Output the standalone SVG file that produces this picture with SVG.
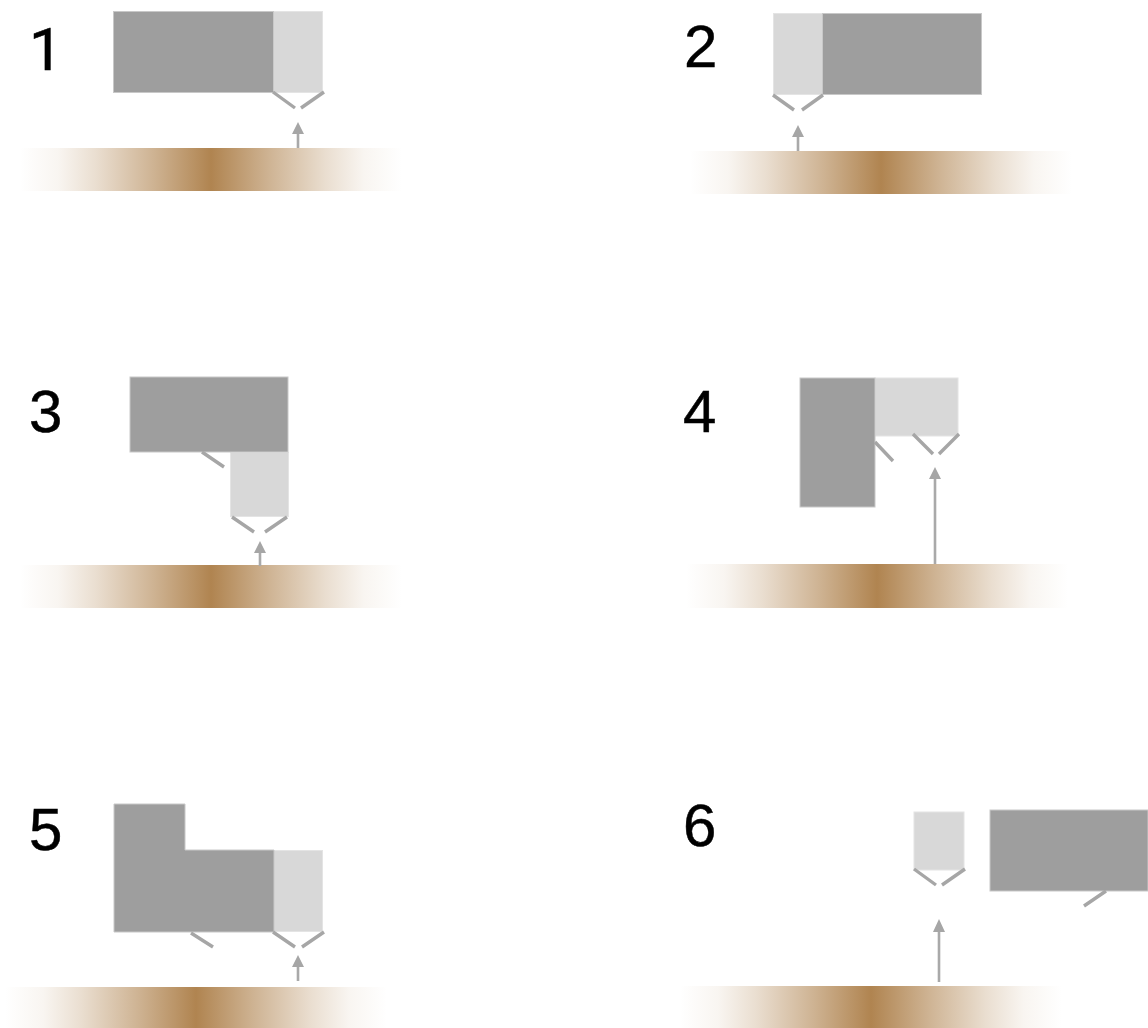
<svg xmlns="http://www.w3.org/2000/svg" width="1148" height="1028" viewBox="0 0 1148 1028">
<style>
.n{font-family:"Liberation Sans",Arial,sans-serif;font-size:60px;fill:#000;stroke:#000;stroke-width:.5}
.o{font-family:Roboto,"Liberation Sans",sans-serif}
.d{fill:#9e9e9e;stroke:#c8c8c8;stroke-width:1}
.l{fill:#d8d8d8;stroke:#e4e4e4;stroke-width:1}
.s{stroke:#a6a6a6;stroke-width:3.4;fill:none}
.a{stroke:#a9a9a9;stroke-width:2.6;fill:none}
.h{fill:#a6a6a6}
</style>
<defs>
<linearGradient id="g"><stop offset="0" stop-color="#b08450" stop-opacity="0"/><stop offset=".1" stop-color="#b08450" stop-opacity=".08"/><stop offset=".2" stop-color="#b08450" stop-opacity=".27"/><stop offset=".35" stop-color="#b08450" stop-opacity=".62"/><stop offset=".5" stop-color="#b08450"/><stop offset=".65" stop-color="#b08450" stop-opacity=".62"/><stop offset=".8" stop-color="#b08450" stop-opacity=".27"/><stop offset=".9" stop-color="#b08450" stop-opacity=".08"/><stop offset="1" stop-color="#b08450" stop-opacity="0"/></linearGradient>
</defs>
<rect id="bar1" x="20" y="148" width="382" height="43" fill="url(#g)"/>
<rect id="bar2" x="690" y="151" width="382" height="43" fill="url(#g)"/>
<rect id="bar3" x="20" y="565" width="382" height="43" fill="url(#g)"/>
<rect id="bar4" x="686" y="564" width="382" height="44" fill="url(#g)"/>
<rect id="bar5" x="5" y="987" width="382" height="41" fill="url(#g)"/>
<rect id="bar6" x="680" y="986" width="382" height="42" fill="url(#g)"/>
<g id="node1"><rect class="l" x="273.500" y="11.500" width="49" height="81"/><rect class="d" x="113.500" y="11.500" width="160" height="81"/><text class="n o" x="29" y="70">1</text></g>
<g id="node2"><rect class="l" x="773.500" y="13.500" width="49" height="81"/><rect class="d" x="822.500" y="13.500" width="159" height="81"/><text class="n" x="684" y="67">2</text></g>
<g id="node3"><rect class="l" x="230.500" y="452.500" width="58" height="64"/><rect class="d" x="130" y="377" width="158" height="75"/><text class="n" x="29" y="432">3</text></g>
<g id="node4"><rect class="l" x="875" y="378" width="83" height="58"/><rect class="d" x="800" y="378" width="75" height="129"/><text class="n" x="683" y="432">4</text></g>
<g id="node5"><rect class="l" x="273.500" y="850.500" width="49" height="81"/><path class="d" d="M114 804H185V850H274V932H114Z"/><text class="n" x="29" y="850">5</text></g>
<g id="node6"><rect class="l" x="914" y="812" width="50" height="58"/><rect class="d" x="990" y="810" width="158" height="81"/><text class="n" x="683" y="846">6</text></g>
<g id="connectors">
<path class="s" d="M273 92L295 108M324 92L301 108"/>
<path class="s" d="M773 95L794 110M823 95L802 110"/>
<path class="s" d="M232 517L254 532M287 517L265 532M202 452L224 467"/>
<path class="s" d="M913 434L933 454M959 434L939 454M875 442L893 461"/>
<path class="s" d="M273 932L295 947M324 932L302 947M191 933L213 947"/>
<path class="s" d="M914 869L936 885M965 869L942 885M1106 891L1084 906"/>
<path class="a" d="M298 148V131M798 151V134M260 566V550M935 564V476M298 981V964M939 982V928"/>
<path class="h" d="M298 122L304 134H292ZM798 125L804 137H792ZM260 541L266 553H254ZM935 467L941 479H929ZM298 955L304 967H292ZM939 919L945 932H933Z"/>
</g>
</svg>
